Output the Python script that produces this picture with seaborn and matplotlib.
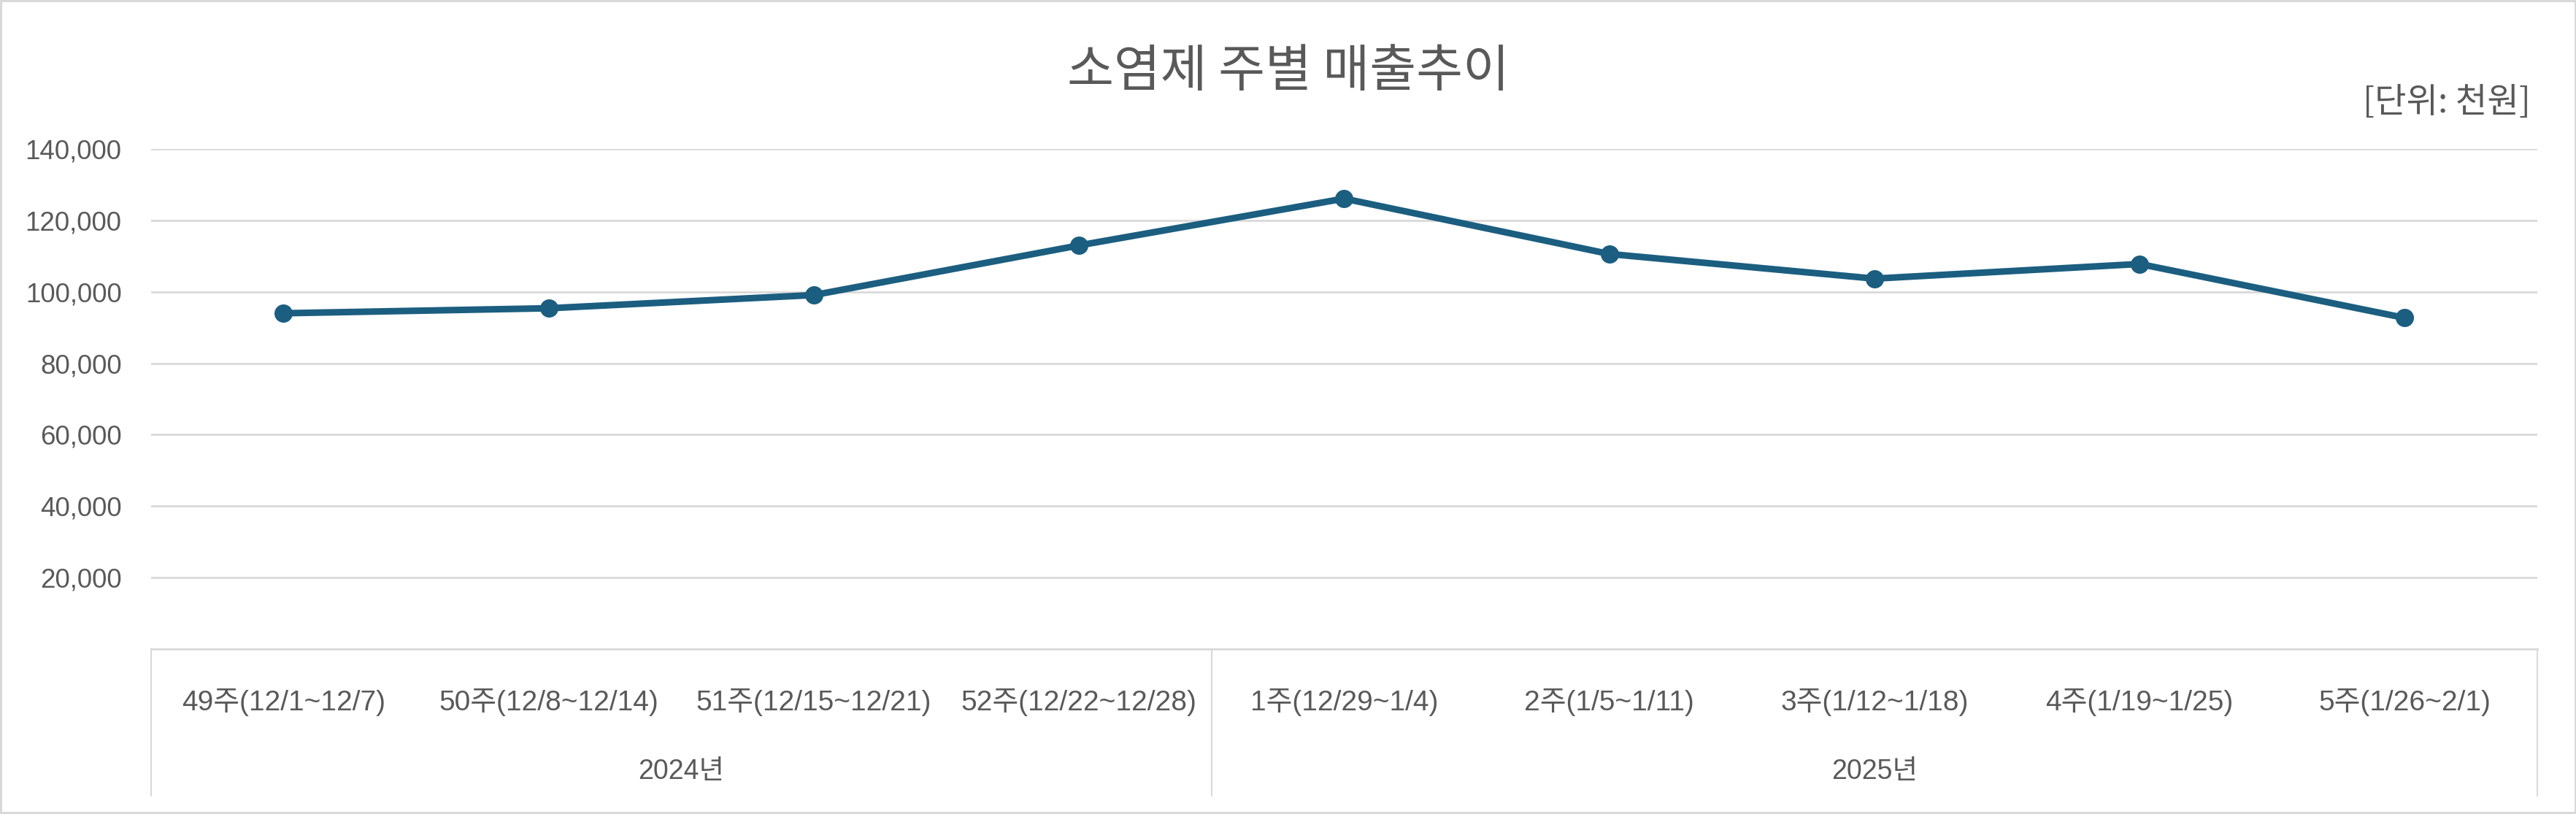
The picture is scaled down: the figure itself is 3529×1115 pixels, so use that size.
import pandas as pd
import seaborn as sns
import matplotlib.pyplot as plt
from matplotlib import transforms

# 데이터
weeks = ["49주(12/1~12/7)", "50주(12/8~12/14)", "51주(12/15~12/21)", "52주(12/22~12/28)",
         "1주(12/29~1/4)", "2주(1/5~1/11)", "3주(1/12~1/18)", "4주(1/19~1/25)", "5주(1/26~2/1)"]
sales = [94000, 95400, 99100, 113000, 126100, 110600, 103700, 107800, 92700]
years = ["2024년", "2025년"]
weeks_per_year = [4, 5]
y_ticks = [20000, 40000, 60000, 80000, 100000, 120000, 140000]

TEXT = "#595959"
GRID = "#D9D9D9"
LINE = "#1B5E80"

sns.set_theme(style="white")
plt.rcParams['font.family'] = ['Liberation Sans', 'Noto Sans CJK KR', 'DejaVu Sans']

df = pd.DataFrame({"week": weeks, "sales": sales})

fig = plt.figure(figsize=(35.3, 11.15), dpi=100)
fig.patch.set_edgecolor(GRID)
fig.patch.set_linewidth(3)
ax = fig.add_axes([0.0586, 0.2027, 0.9261, 0.6143])

sns.lineplot(data=df, x="week", y="sales", ax=ax, color=LINE, linewidth=6.5,
             marker="o", markersize=18, markeredgewidth=0, sort=False)

ax.set_xlim(-0.5, len(weeks) - 0.5)
ax.set_ylim(0, 140000)
ax.set_yticks(y_ticks)
ax.set_yticklabels([f"{v:,}" for v in y_ticks])
ax.yaxis.grid(True, color=GRID, linewidth=2)
ax.set_axisbelow(True)
for side in ["top", "left", "right"]:
    ax.spines[side].set_visible(False)
ax.spines["bottom"].set_color(GRID)
ax.spines["bottom"].set_linewidth(2)

ax.set_xlabel("")
ax.set_ylabel("")
ax.tick_params(axis="y", length=0, pad=29, labelsize=26.5, labelcolor=TEXT)
ax.tick_params(axis="x", length=0, pad=39, labelsize=28, labelcolor=TEXT)

# 2단 카테고리 축 (연도)
trans = transforms.blended_transform_factory(ax.transData, ax.transAxes)
start = -0.5
bounds = [start]
for n, yr in zip(weeks_per_year, years):
    ax.text(start + n / 2, -0.245, yr, transform=trans, ha="center", va="center",
            fontsize=27, color=TEXT)
    start += n
    bounds.append(start)
for b in bounds:
    ax.plot([b, b], [0, -0.293], transform=trans, color=GRID, linewidth=1.5, clip_on=False)

fig.text(0.5, 0.912, "소염제 주별 매출추이", ha="center", va="center",
         fontsize=50, color=TEXT, family=['Noto Sans CJK KR', 'DejaVu Sans'])
fig.text(0.982, 0.874, "[단위: 천원]", ha="right", va="center",
         fontsize=34, color=TEXT, family=['Noto Sans CJK KR', 'DejaVu Sans'])

fig.savefig("out.png", dpi=100)
